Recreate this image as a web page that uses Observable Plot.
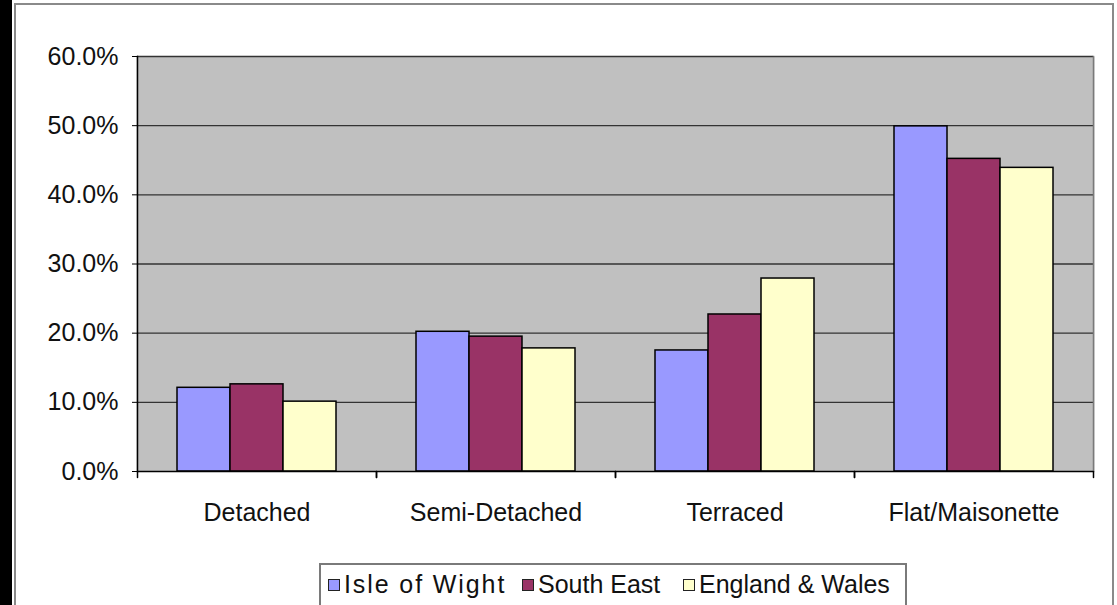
<!DOCTYPE html>
<html>
<head>
<meta charset="utf-8">
<script src="https://cdn.jsdelivr.net/npm/d3@7"></script>
<script src="https://cdn.jsdelivr.net/npm/@observablehq/plot@0.6"></script>
<style>
  html, body { margin: 0; padding: 0; background: #fff; }
  #wrap { position: relative; width: 1117px; height: 605px; overflow: hidden; font-family: "Liberation Sans", Arial, sans-serif; }
  #blackstrip { position: absolute; left: 0; top: 0; width: 12px; height: 605px; background: #000; }
  #outer { position: absolute; left: 14px; top: 3px; width: 1100px; height: 640px; border: 2px solid #8a8a8a; box-sizing: border-box; }
  #chart { position: absolute; left: 0; top: 0; }
  #legend { position: absolute; left: 319px; top: 563px; width: 588px; height: 60px; border: 2px solid #7a7a7a; box-sizing: border-box; display: flex; align-items: flex-start; padding: 5px 0 0 7px; font-size: 25px; color: #111; white-space: nowrap; }
  .item { display: flex; align-items: center; }
  .item:nth-child(1) { width: 194px; }
  .item:nth-child(1) .lbl { letter-spacing: 1.9px; }
  .item:nth-child(2) { width: 161px; }
  .sw { width: 10px; height: 10px; border: 1.5px solid #222; margin-right: 4px; margin-top: 1px; flex: none; }
</style>
</head>
<body>
<div id="wrap">
  <div id="blackstrip"></div>
  <div id="outer"></div>
  <div id="chart"></div>
  <div id="legend"></div>
</div>
<script>
const categories = ["Detached", "Semi-Detached", "Terraced", "Flat/Maisonette"];
const series = ["Isle of Wight", "South East", "England & Wales"];
const isleOfWight = [0.121, 0.202, 0.175, 0.499];
const southEast = [0.126, 0.195, 0.227, 0.452];
const englandWales = [0.101, 0.178, 0.279, 0.439];
const colors = ["#9999FF", "#993366", "#FFFFCC"];
const yTicks = [0, 0.1, 0.2, 0.3, 0.4, 0.5, 0.6];

const valuesBySeries = [isleOfWight, southEast, englandWales];
const data = [];
categories.forEach((c, i) => series.forEach((s, j) => data.push({category: c, series: s, value: valuesBySeries[j][i]})));

const tickShape = {draw(context, l) { context.moveTo(0, 0); context.lineTo(0, -l); }};

const plot = Plot.plot({
  width: 1117,
  height: 605,
  marginLeft: 136,
  marginRight: 24,
  marginTop: 56,
  marginBottom: 134,
  style: {fontFamily: "'Liberation Sans', Arial, sans-serif", color: "#111", background: "transparent"},
  fx: {domain: categories, padding: 0, label: null},
  x: {domain: series, paddingInner: 0, paddingOuter: 0.73, axis: null},
  y: {domain: [0, 0.6], label: null},
  color: {domain: series, range: colors},
  marks: [
    Plot.frame({fill: "#C0C0C0", stroke: null, insetLeft: -1, insetRight: -1}),
    Plot.ruleY(yTicks.slice(1), {stroke: "#333", strokeWidth: 1.4}),
    Plot.frame({anchor: "right", facetAnchor: "right", stroke: "#7a7a7a", strokeWidth: 1.5}),
    Plot.frame({anchor: "left", facetAnchor: "left", stroke: "#000", strokeWidth: 1.5}),
    Plot.barY(data, {fx: "category", x: "series", y: "value", fill: "series", stroke: "#000", strokeWidth: 1.5}),
    Plot.ruleY([0], {stroke: "#000", strokeWidth: 1.5}),
    Plot.vector(categories, {fx: d => d, frameAnchor: "bottom-left", length: 6, rotate: 180, anchor: "start", shape: tickShape, stroke: "#000"}),
    Plot.vector(categories, {fx: d => d, frameAnchor: "bottom-right", length: 6, rotate: 180, anchor: "start", shape: tickShape, stroke: "#000"}),
    Plot.axisY({ticks: yTicks, tickFormat: d => (d * 100).toFixed(1) + "%", tickSize: 5, tickPadding: 14, fontSize: 25, stroke: "#000", label: null}),
    Plot.axisFx({anchor: "bottom", tickSize: 0, tickPadding: 32, fontSize: 25, label: null})
  ]
});
document.getElementById("chart").appendChild(plot);

const legend = document.getElementById("legend");
series.forEach((s, i) => {
  const item = document.createElement("div");
  item.className = "item";
  const sw = document.createElement("span");
  sw.className = "sw";
  sw.style.background = colors[i];
  const t = document.createElement("span");
  t.className = "lbl";
  t.textContent = s;
  item.appendChild(sw);
  item.appendChild(t);
  legend.appendChild(item);
});
</script>
</body>
</html>
